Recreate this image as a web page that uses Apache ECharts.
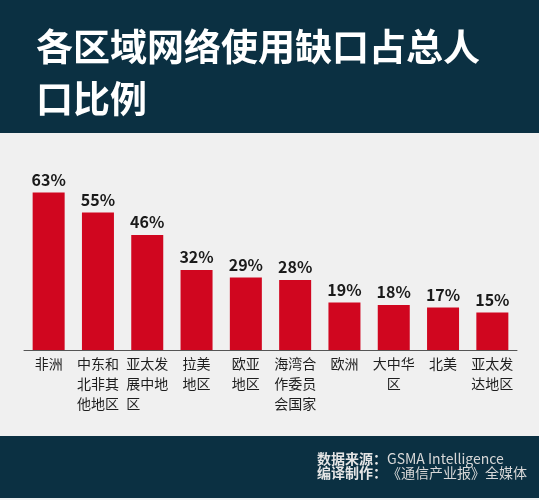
<!DOCTYPE html>
<html>
<head>
<meta charset="utf-8">
<script src="https://cdn.jsdelivr.net/npm/echarts@6/dist/echarts.min.js"></script>
<style>
html, body { margin: 0; padding: 0; background: #f0f0f0; }
#chart { width: 539px; height: 500px; }
</style>
</head>
<body>
<div id="chart"></div>
<script>
// 地区名称（换行与原图一致）
var regions = ['非洲', '中东和\n北非其\n他地区', '亚太发\n展中地\n区　　', '拉美\n地区', '欧亚\n地区',
	'海湾合\n作委员\n会国家', '欧洲', '大中华\n区', '北美', '亚太发\n达地区'];
// 网络使用缺口占总人口比例（%）
var gapPercent = [63, 55, 46, 32, 29, 28, 19, 18, 17, 15];

var titleText = '各区域网络使用缺口占总人\n口比例';
var sourceText = '数据来源：';
var sourceName = 'GSMA Intelligence';
var editorText = '编译制作：';
var editorName = '《通信产业报》全媒体';

var font = '"Noto Sans CJK SC", "Noto Sans", sans-serif';
var navy = '#0b3042';

var myChart = echarts.init(document.getElementById('chart'));
var option = {
	backgroundColor : '#f0f0f0',
	textStyle : {
		fontFamily : font
	},
	graphic : [ {
		type : 'rect',
		z : -1,
		shape : { x : 0, y : 0, width : 539, height : 133 },
		style : { fill : navy }
	}, {
		type : 'rect',
		z : -1,
		shape : { x : 0, y : 436, width : 539, height : 62 },
		style : { fill : navy }
	} ],
	title : [ {
		text : titleText,
		left : 31,
		top : 16,
		textStyle : {
			color : '#ffffff',
			fontSize : 37,
			fontWeight : 'bold',
			lineHeight : 52,
			fontFamily : font
		}
	}, {
		text : '{b|' + sourceText + '}{n|' + sourceName + '}\n{b|' + editorText + '}{n|' + editorName + '}',
		right : 7,
		top : 447,
		textStyle : {
			color : '#e6e6e6',
			fontSize : 14,
			lineHeight : 14,
			fontFamily : font,
			rich : {
				b : { fontWeight : 'bold', fontSize : 14, color : '#e6e6e6', lineHeight : 14, fontFamily : font },
				n : { fontWeight : 'normal', fontSize : 14, color : '#d8d8d8', lineHeight : 14, fontFamily : font }
			}
		}
	} ],
	grid : {
		left : 24,
		right : 22,
		top : 175,
		bottom : 150
	},
	xAxis : {
		type : 'category',
		data : regions,
		axisTick : { show : false },
		axisLine : {
			lineStyle : { color : '#555555', width : 1 }
		},
		axisLabel : {
			interval : 0,
			margin : 4,
			fontSize : 14,
			lineHeight : 20,
			color : '#1e1e1e',
			fontFamily : font
		}
	},
	yAxis : {
		type : 'value',
		min : 0,
		max : 70,
		show : false,
		splitLine : { show : false }
	},
	series : [ {
		name : '比例',
		type : 'bar',
		barWidth : 32,
		data : gapPercent,
		itemStyle : { color : '#d0061f' },
		label : {
			show : true,
			position : 'top',
			distance : 5,
			formatter : '{c}%',
			fontSize : 16,
			fontWeight : 'bold',
			color : '#1a1a1a',
			fontFamily : font
		}
	} ],
	animation : false
};
myChart.setOption(option);
</script>
</body>
</html>
